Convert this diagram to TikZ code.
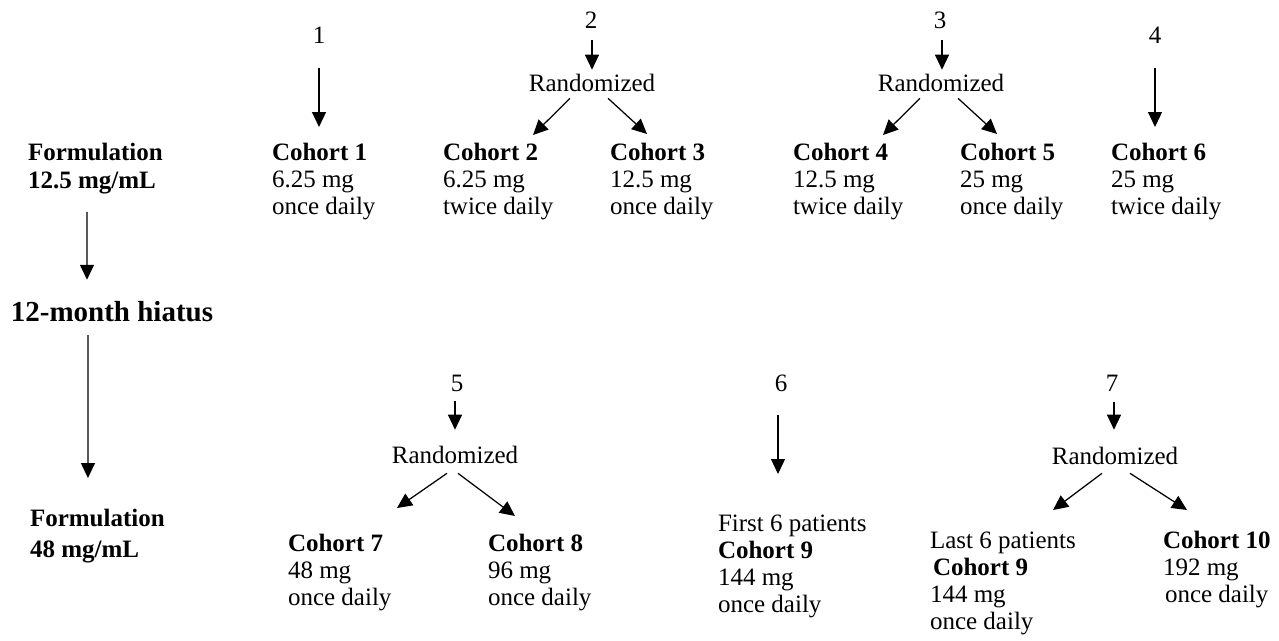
\documentclass[tikz,border=0pt]{standalone}
\usepackage{fontspec}
\setmainfont{Liberation Serif}
\usetikzlibrary{arrows.meta}
\tikzset{
  txt/.style={inner sep=0pt, outer sep=0pt, font=\fontsize{25}{27}\selectfont},
  blk/.style={txt, align=left, anchor=north west},
  arr/.style={line width=1.25pt, -{Triangle[length=15pt,width=14pt]}},
}
\begin{document}
\begin{tikzpicture}[x=1pt,y=-1pt]
\useasboundingbox (0,0) rectangle (1279,640);
% left column
\node[blk, font=\bfseries\fontsize{25}{28}\selectfont] (f1) at (28,143.5) {Formulation\\12.5 mg/mL};
\node[txt, font=\bfseries\fontsize{29}{31}\selectfont] (hi) at (112,312) {12-month hiatus};
\node[blk, font=\bfseries\fontsize{25}{28}\selectfont] (f2) at (30,509.5) {Formulation\\[3pt]48 mg/mL};
\draw[arr] ([xshift=-8.4pt,yshift=-17.5pt]f1.south) -- ([xshift=-25pt,yshift=22pt]hi.north);
\draw[arr] ([xshift=-24pt,yshift=-13pt]hi.south) -- ([xshift=-9.4pt,yshift=31.5pt]f2.north);
% top row
\node[txt] (n1) at (319,35) {1};
\node[txt] (n2) at (591,20) {2};
\node[txt] (n3) at (940,20) {3};
\node[txt] (n4) at (1155,35) {4};
\node[txt] (r2) at (592,83) {Randomized};
\node[txt] (r3) at (941,83) {Randomized};
\node[blk] (c1) at (272,143.5) {\textbf{Cohort 1}\\6.25 mg\\once daily};
\node[blk] (c2) at (443,143.5) {\textbf{Cohort 2}\\6.25 mg\\twice daily};
\node[blk] (c3) at (610,143.5) {\textbf{Cohort 3}\\12.5 mg\\once daily};
\node[blk] (c4) at (793,143.5) {\textbf{Cohort 4}\\12.5 mg\\twice daily};
\node[blk] (c5) at (960,143.5) {\textbf{Cohort 5}\\25 mg\\once daily};
\node[blk] (c6) at (1111,143.5) {\textbf{Cohort 6}\\25 mg\\twice daily};
\draw[arr] ([yshift=-24.5pt]n1.south) -- ([xshift=47pt,yshift=16.5pt]c1.north west);
\draw[arr] ([xshift=1pt,yshift=-11.5pt]n2.south) -- ([yshift=4.5pt]r2.north);
\draw[arr] ([xshift=-22pt,yshift=-6.5pt]r2.south) -- ([xshift=90pt,yshift=8.5pt]c2.north west);
\draw[arr] ([xshift=16pt,yshift=-6.5pt]r2.south) -- ([xshift=37pt,yshift=9.5pt]c3.north west);
\draw[arr] ([xshift=2pt,yshift=-11.5pt]n3.south) -- ([xshift=1pt,yshift=4.5pt]r3.north);
\draw[arr] ([xshift=-21pt,yshift=-6.5pt]r3.south) -- ([xshift=90pt,yshift=8.5pt]c4.north west);
\draw[arr] ([xshift=17pt,yshift=-6.5pt]r3.south) -- ([xshift=37pt,yshift=9.5pt]c5.north west);
\draw[arr] ([yshift=-24.5pt]n4.south) -- ([xshift=44pt,yshift=16.5pt]c6.north west);
% bottom row
\node[txt] (n5) at (457,383) {5};
\node[txt] (n6) at (781,383) {6};
\node[txt] (n7) at (1112,383) {7};
\node[txt] (r5) at (455,455) {Randomized};
\node[txt] (r7) at (1115,456) {Randomized};
\node[blk] (c7) at (288,534.5) {\textbf{Cohort 7}\\48 mg\\once daily};
\node[blk] (c8) at (488,534.5) {\textbf{Cohort 8}\\96 mg\\once daily};
\node[blk] (f9) at (718,514.5) {First 6 patients\\\textbf{Cohort 9}\\144 mg\\once daily};
\node[blk] (l9) at (930,531.5) {Last 6 patients\\\hspace*{3pt}\textbf{Cohort 9}\\144 mg\\once daily};
\node[blk] (c10) at (1163,531.5) {\textbf{Cohort 10}\\192 mg\\\hspace*{2pt}once daily};
\draw[arr] ([xshift=-2pt,yshift=-9.5pt]n5.south) -- ([yshift=16.5pt]r5.north);
\draw[arr] ([xshift=-8pt,yshift=-9.5pt]r5.south) -- ([xshift=109pt,yshift=26.5pt]c7.north west);
\draw[arr] ([xshift=3pt,yshift=-9.5pt]r5.south) -- ([xshift=27pt,yshift=18.5pt]c8.north west);
\draw[arr] ([xshift=-3pt,yshift=-23.5pt]n6.south) -- ([xshift=60pt,yshift=40.5pt]f9.north west);
\draw[arr] ([xshift=2pt,yshift=-10.5pt]n7.south) -- ([xshift=-1pt,yshift=17.5pt]r7.north);
\draw[arr] ([xshift=-13pt,yshift=-8.5pt]r7.south) -- ([xshift=123pt,yshift=21.5pt]l9.north west);
\draw[arr] ([xshift=15pt,yshift=-8.5pt]r7.south) -- ([xshift=24pt,yshift=21.5pt]c10.north west);
\end{tikzpicture}
\end{document}
